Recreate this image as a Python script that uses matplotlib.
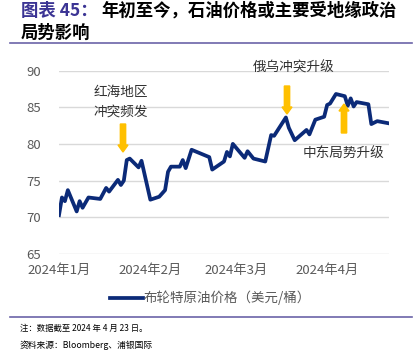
import matplotlib
matplotlib.use("Agg")
import matplotlib.pyplot as plt
import pandas as pd
from matplotlib.lines import Line2D

plt.rcParams['font.family'] = ['Noto Sans CJK SC', 'DejaVu Sans']

dates = ["2024-01-02", "2024-01-03", "2024-01-04", "2024-01-05", "2024-01-08", "2024-01-09",
         "2024-01-10", "2024-01-12", "2024-01-16", "2024-01-18", "2024-01-19", "2024-01-22",
         "2024-01-23", "2024-01-24", "2024-01-25", "2024-01-26", "2024-01-29", "2024-01-30",
         "2024-02-02", "2024-02-05", "2024-02-07", "2024-02-08", "2024-02-09", "2024-02-12",
         "2024-02-13", "2024-02-14", "2024-02-16", "2024-02-19", "2024-02-22", "2024-02-23",
         "2024-02-27", "2024-02-28", "2024-02-29", "2024-03-01", "2024-03-05", "2024-03-06",
         "2024-03-08", "2024-03-12", "2024-03-14", "2024-03-15", "2024-03-19", "2024-03-20",
         "2024-03-22", "2024-03-26", "2024-03-27", "2024-03-29", "2024-04-01", "2024-04-02",
         "2024-04-03", "2024-04-05", "2024-04-08", "2024-04-09", "2024-04-10", "2024-04-11",
         "2024-04-12", "2024-04-16", "2024-04-17", "2024-04-19", "2024-04-23"]
brent = [70.3, 72.7, 72.2, 73.7, 70.8, 72.2,
         71.3, 72.7, 72.5, 74.0, 73.5, 75.1,
         74.4, 75.0, 77.8, 78.0, 76.8, 77.7,
         72.4, 72.8, 73.7, 76.2, 76.9, 76.9,
         77.8, 76.7, 79.2, 78.7, 78.2, 76.5,
         77.6, 78.9, 78.3, 80.0, 78.1, 79.0,
         78.0, 77.6, 81.2, 81.1, 83.6, 82.2,
         80.5, 81.9, 81.3, 83.3, 83.7, 85.3,
         85.5, 86.8, 86.5, 85.2, 86.2, 85.1,
         85.7, 85.4, 82.7, 83.1, 82.8]
tick_dates = ["2024-01-02", "2024-02-02", "2024-03-02", "2024-04-02"]
tick_labels = ["2024年1月", "2024年2月", "2024年3月", "2024年4月"]
yticks = [65, 70, 75, 80, 85, 90]
series_name = "布轮特原油价格（美元/桶）"

W, H = 419, 353
fig = plt.figure(figsize=(W/100, H/100), dpi=100)

def fx(px):
    return px / W

def fy(py):
    return 1 - py / H

ax = fig.add_axes([fx(59), fy(254), fx(389) - fx(59), fy(70.5) - fy(254)])
x = pd.to_datetime(dates)
ax.plot(x, brent, color='#0B2A78', lw=2.7, solid_joinstyle='round', zorder=3)
ax.set_xlim(pd.Timestamp("2024-01-02"), pd.Timestamp("2024-04-23"))
ax.set_ylim(65, 90)
ax.set_yticks(yticks)
ax.set_xticks(pd.to_datetime(tick_dates))
ax.set_xticklabels(tick_labels)
ax.grid(axis='y', color='#D9D9D9', lw=1)
ax.grid(axis='x', visible=False)
for s in ax.spines.values():
    s.set_visible(False)
ax.tick_params(axis='both', length=0, colors='#595959', labelsize=9.5)
ax.tick_params(axis='y', pad=13)
ax.tick_params(axis='x', pad=7)

# annotations
txtc = '#333333'
afs = 9.8
fig.text(fx(121), fy(92), "红海地区", ha='center', va='center', fontsize=afs, color=txtc)
fig.text(fx(121), fy(112), "冲突频发", ha='center', va='center', fontsize=afs, color=txtc)
fig.text(fx(294), fy(68), "俄乌冲突升级", ha='center', va='center', fontsize=afs, color=txtc)
fig.text(fx(344), fy(154), "中东局势升级", ha='center', va='center', fontsize=afs, color=txtc)

arrow_c = '#FFC000'
def arrow(xp, y0, y1):
    fig.patches.append(matplotlib.patches.FancyArrow(
        fx(xp), fy(y0), 0, fy(y1) - fy(y0), width=4.5/H, head_width=10/W,
        head_length=7/H, length_includes_head=True, color=arrow_c,
        transform=fig.transFigure, figure=fig))

arrow(123, 124, 152)
arrow(287, 86, 114)
arrow(344, 133, 104)

# legend
fig.add_artist(Line2D([fx(110), fx(143)], [fy(298), fy(298)], color='#0B2A78', lw=2.7,
                      transform=fig.transFigure))
fig.text(fx(144), fy(298), series_name, ha='left', va='center', fontsize=9.7, color='#595959')

# title
purple = '#3B3494'
tfs = 12.5
fig.text(fx(21), fy(11), "图表 45：", ha='left', va='center', fontsize=tfs,
         fontweight='bold', color=purple)
fig.text(fx(101), fy(11), "年初至今，石油价格或主要受地缘政治", ha='left', va='center',
         fontsize=tfs, fontweight='bold', color='black')
fig.text(fx(21), fy(33), "局势影响", ha='left', va='center', fontsize=tfs,
         fontweight='bold', color='black')
line_c = '#6B63A8'
fig.add_artist(Line2D([fx(10), fx(412)], [fy(43), fy(43)], color=line_c, lw=1.2,
                      transform=fig.transFigure))
fig.add_artist(Line2D([fx(10), fx(412)], [fy(317), fy(317)], color=line_c, lw=1.2,
                      transform=fig.transFigure))

fig.text(fx(20), fy(328), "注：数据截至 2024 年 4 月 23 日。", ha='left', va='center',
         fontsize=6.0, color='black')
fig.text(fx(20), fy(345), "资料来源：Bloomberg、浦银国际", ha='left', va='center',
         fontsize=6.3, color='black')

fig.savefig("out.png", dpi=100)
